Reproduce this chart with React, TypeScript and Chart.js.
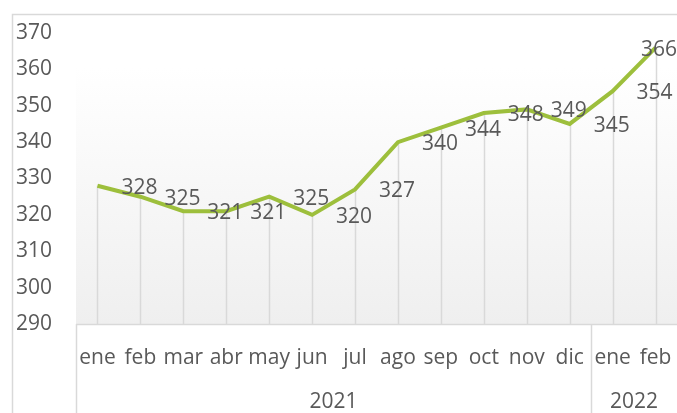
import React, { useEffect, useRef } from 'react';
import { Chart, registerables } from 'chart.js';

Chart.register(...registerables);

const months = ['ene', 'feb', 'mar', 'abr', 'may', 'jun', 'jul', 'ago', 'sep', 'oct', 'nov', 'dic', 'ene', 'feb'];
const values = [328, 325, 321, 321, 325, 320, 327, 340, 344, 348, 349, 345, 354, 366];
const yearLabels = ['2021', '2022'];
const yearSpans = [12, 2];
const yTicks = [290, 300, 310, 320, 330, 340, 350, 360, 370];

const FONT = '"Open Sans", "Noto Sans", sans-serif';
const TEXT = '#595959';
const GRID = '#d9d9d9';
const LINE = '#9dbf3c';

const decorPlugin = {
  id: 'decor',
  beforeDraw(chart: any) {
    const { ctx, chartArea } = chart;
    ctx.save();
    const g = ctx.createLinearGradient(0, chartArea.top, 0, chartArea.bottom);
    g.addColorStop(0, '#ffffff');
    g.addColorStop(0.12, '#ffffff');
    g.addColorStop(1, '#efefef');
    ctx.fillStyle = g;
    ctx.fillRect(chartArea.left, chartArea.top, chartArea.right - chartArea.left, chartArea.bottom - chartArea.top);
    ctx.strokeStyle = GRID;
    ctx.lineWidth = 1.5;
    ctx.beginPath();
    ctx.moveTo(12.5, chart.height + 5);
    ctx.lineTo(12.5, 14.5);
    ctx.lineTo(chart.width + 5, 14.5);
    ctx.stroke();
    ctx.restore();
  },
  beforeDatasetsDraw(chart: any) {
    const { ctx, chartArea } = chart;
    const meta = chart.getDatasetMeta(0);
    ctx.save();
    ctx.strokeStyle = GRID;
    ctx.lineWidth = 1.5;
    meta.data.forEach((pt: any) => {
      ctx.beginPath();
      ctx.moveTo(Math.round(pt.x) + 0.5, pt.y);
      ctx.lineTo(Math.round(pt.x) + 0.5, chartArea.bottom);
      ctx.stroke();
    });
    ctx.restore();
  },
  afterDatasetsDraw(chart: any) {
    const { ctx, chartArea } = chart;
    const xs = chart.scales.x;
    const meta = chart.getDatasetMeta(0);
    ctx.save();
    ctx.font = `21px ${FONT}`;
    ctx.fillStyle = TEXT;
    ctx.textBaseline = 'middle';
    ctx.textAlign = 'left';
    meta.data.forEach((pt: any, i: number) => {
      const txt = String(values[i]);
      const w = ctx.measureText(txt).width;
      let x = pt.x + 24;
      if (x + w > chart.width) x = chart.width - w;
      ctx.fillText(txt, x, pt.y + 2);
    });

    // x axis box
    const bottom = chartArea.bottom;
    ctx.strokeStyle = GRID;
    ctx.lineWidth = 1.5;
    ctx.beginPath();
    ctx.moveTo(chartArea.left, bottom + 0.5);
    ctx.lineTo(chartArea.right, bottom + 0.5);
    ctx.stroke();
    const step = xs.getPixelForValue(1) - xs.getPixelForValue(0);
    let idx = 0;
    const bounds: number[] = [chartArea.left];
    yearSpans.forEach((span) => {
      idx += span;
      bounds.push(xs.getPixelForValue(idx - 1) + step / 2);
    });
    bounds.forEach((bx, i) => {
      if (i === bounds.length - 1) return;
      ctx.beginPath();
      ctx.moveTo(Math.round(bx) + 0.5, bottom);
      ctx.lineTo(Math.round(bx) + 0.5, chart.height);
      ctx.stroke();
    });

    ctx.textAlign = 'center';
    ctx.textBaseline = 'alphabetic';
    months.forEach((m, i) => {
      ctx.fillText(m, xs.getPixelForValue(i), 364);
    });
    yearLabels.forEach((y, i) => {
      ctx.fillText(y, (bounds[i] + bounds[i + 1]) / 2, 408);
    });
    ctx.restore();
  },
};

export default function App() {
  const ref = useRef<HTMLCanvasElement>(null);
  useEffect(() => {
    if (!ref.current) return;
    const chart = new Chart(ref.current, {
      type: 'line',
      data: {
        labels: months.map((m, i) => `${m}-${i}`),
        datasets: [
          {
            data: values,
            borderColor: LINE,
            borderWidth: 4,
            pointRadius: 0,
            tension: 0,
            fill: false,
          },
        ],
      },
      options: {
        animation: false,
        responsive: false,
        layout: { padding: { top: 33, left: 16, right: 0, bottom: 0 } },
        plugins: { legend: { display: false }, tooltip: { enabled: false } },
        scales: {
          x: {
            type: 'category',
            offset: true,
            grid: { display: false },
            border: { display: false },
            ticks: { display: false },
            afterFit: (s: any) => {
              s.height = 89;
            },
          },
          y: {
            min: 290,
            max: 370,
            afterBuildTicks: (s: any) => {
              s.ticks = yTicks.map((v) => ({ value: v }));
            },
            grid: { display: false },
            border: { display: false },
            ticks: {
              crossAlign: 'far',
              color: TEXT,
              font: { family: FONT, size: 21 },
            },
            afterFit: (s: any) => {
              s.width = 60;
            },
          },
        },
      },
      plugins: [decorPlugin],
    });
    return () => chart.destroy();
  }, []);
  return (
    <div style={{ position: 'fixed', left: 0, top: 0, width: 677, height: 413, background: '#fff' }}>
      <canvas ref={ref} width={677} height={413} style={{ width: 677, height: 413 }} />
    </div>
  );
}
